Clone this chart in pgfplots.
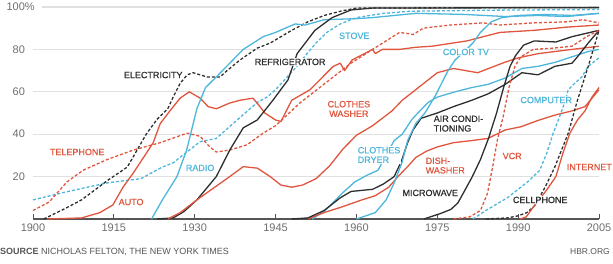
\documentclass[border=0pt]{standalone}
\usepackage{fontspec}
\setmainfont{Liberation Sans}
\newfontfamily\labfont[FakeBold=0.6]{Liberation Sans}
\usepackage{pgfplots}
\pgfplotsset{compat=1.18}
\definecolor{cred}{HTML}{E0553E}
\definecolor{cblue}{HTML}{4DB6DB}
\definecolor{cblack}{HTML}{2E2E2E}
\definecolor{cgrid}{HTML}{E0E0E0}
\definecolor{ctick}{HTML}{6E6E6E}
\definecolor{caxis}{HTML}{555555}
\tikzset{
  lab/.style={fill=white, inner sep=0.6pt, font=\labfont\fontsize{9}{9.6}\selectfont},
  rs/.style={cred, line width=1.3pt, line join=round},
  rd/.style={cred, line width=1.3pt, line join=round, dash pattern=on 3pt off 2pt},
  bs/.style={cblue, line width=1.3pt, line join=round},
  bd/.style={cblue, line width=1.3pt, line join=round, dash pattern=on 3pt off 2pt},
  ks/.style={cblack, line width=1.3pt, line join=round},
  kd/.style={cblack, line width=1.3pt, line join=round, dash pattern=on 3pt off 2pt},
}
\begin{document}
\begin{tikzpicture}
\path[use as bounding box] (-33pt,-45pt) rectangle (580pt,219pt);
\begin{axis}[
  at={(0,0)}, anchor=south west,
  scale only axis, width=566pt, height=212pt,
  xmin=1900, xmax=2005, ymin=0, ymax=100,
  clip=false,
  axis lines=left,
  axis line style={-},
  y axis line style={draw=none},
  x axis line style={caxis, line width=1.3pt},
  xtick={1900,1915,1930,1945,1960,1975,1990,2005},
  xticklabels={1900,1915,1930,1945,1960,1975,1990,2005},
  ytick={20,40,60,80,100},
  yticklabels={20,40,60,80,{100\rlap{{\setlength{\fboxsep}{0pt}\colorbox{white}{\%\hspace{7pt}}}}}},
  xtick align=inside,
  major tick length=5pt,
  xtick style={caxis, line width=0.8pt},
  ytick style={draw=none},
  ymajorgrids,
  grid style={cgrid, line width=1.1pt},
  ticklabel style={font=\fontsize{11}{11}\selectfont, text=ctick},
  yticklabel style={xshift=-2pt},
  xticklabel style={yshift=-1pt},
]
% Stove
\addplot[bd] coordinates {(1900,9) (1906,12.7) (1913.7,17) (1918,18.4) (1920,19) (1924,24.5) (1926,26.5) (1931,36.5) (1934,38) (1938,47) (1941.6,55) (1943.4,57.5) (1945,61) (1948.6,71) (1950.5,77) (1952.5,83) (1954.5,88) (1957,92) (1960,95) (1965,97) (1970,98) (1985,98.5) (2005,98.8)};
% Telephone
\addplot[rd] coordinates {(1900,4) (1903,8) (1906.3,17.5) (1909.3,23) (1913.7,28) (1918.6,32.5) (1923.6,36) (1928.6,40.5) (1931,39) (1932.8,34) (1934,31.6) (1936.5,32.5) (1939.7,35) (1942.7,40.5) (1945,44) (1949.5,54.7) (1955.7,67) (1959,73.5) (1963,80) (1968,88) (1969.5,87.5) (1970.5,87) (1972.4,90) (1977.4,91.5) (1983.5,92.5) (1986.6,91.5) (1992.8,92.5) (1999,93) (2002,94) (2005,92.5)};
% Auto
\addplot[rs] coordinates {(1902.6,0) (1909,0.5) (1912.4,3) (1914.8,6.6) (1916.7,15) (1918.6,21.7) (1920.5,29) (1922.3,36) (1923.6,45) (1925.4,51) (1927.3,57) (1929,60) (1931,57) (1932.5,53) (1934,52) (1936.5,54.7) (1938.4,56) (1940.8,57) (1941.8,54) (1943,50) (1945,46.7) (1946,46) (1948,56) (1951.4,61) (1955.7,72) (1957,73.5) (1957.8,70) (1959.2,75) (1963,80) (1963.5,78) (1964.8,80) (1968,80) (1971,81) (1974,81.5) (1980.5,84) (1986.6,88) (1993,89) (1999,90.5) (2005,91.5)};
% Electricity
\addplot[kd] coordinates {(1902,0) (1906,5) (1909,9) (1914,18.5) (1917.5,24.5) (1921,40) (1923,47) (1925,52) (1926,57.5) (1927.3,64) (1928.6,68) (1929.7,69) (1932.3,67) (1934.7,67) (1936,70) (1938.4,75) (1941.6,80.6) (1944,83) (1946,86) (1948,89) (1951,93) (1954,96) (1957,98) (1960,99.5) (2005,99.8)};
% Radio
\addplot[bs] coordinates {(1922,0) (1924,9) (1926.7,20) (1928.5,32.5) (1930.4,52) (1932,62) (1934,67) (1936.5,73.5) (1939,80) (1942.7,86) (1945,88) (1948.6,92) (1950.5,91.5) (1954,94) (1960,94.5) (1963,95) (1971,97) (1980,96.5) (1987.6,95.5) (1993.7,96) (1999,95.5) (2005,97)};
% Refrigerator
\addplot[ks] coordinates {(1923,0) (1926,0.5) (1928,3.5) (1930.4,9) (1934,20) (1936.5,32.5) (1939,43) (1941.6,46.7) (1944.5,56) (1947.3,65.6) (1949,78) (1952.3,89) (1955.5,95) (1959,98.6) (1963,99.5) (2005,99.7)};
% Clothes washer
\addplot[rs] coordinates {(1925,0) (1927.3,3) (1930.4,9) (1934,15.5) (1936.5,20) (1939,24.7) (1941.6,24) (1944,20) (1946,16) (1948,15) (1950,16) (1952.5,19) (1955,25) (1957.5,33) (1960,39.5) (1963,44) (1966.6,51) (1968.5,56) (1971,61) (1975,69) (1978,71) (1982.5,69) (1987.6,74) (1990,76) (1993.7,78) (2000,80) (2005,81.5)};
% Clothes dryer
\addplot[bs] coordinates {(1951.8,0) (1954.2,4) (1957.3,12) (1959.7,17.5) (1962,20.7) (1964,23) (1967,37) (1968.5,40) (1970.3,47) (1971.4,50) (1973.3,55) (1975,57.5) (1978.3,60) (1981.4,62) (1984.4,63.5) (1987.6,66.5) (1990.7,71) (1993.7,72) (1997,74) (2000,76.5) (2003,79) (2005,80)};
% Dishwasher
\addplot[rs] coordinates {(1951,0) (1954,3) (1957.3,5.7) (1961,9) (1963.5,11) (1966,15) (1967.7,20) (1969.6,25) (1971,29) (1973,32) (1975,34) (1978,36) (1981.4,37) (1984.4,38) (1987.6,42) (1990.5,43.5) (1993.7,46.5) (1996.8,49) (2000,51) (2002.4,53) (2003.7,57) (2005,61)};
% Air conditioning
\addplot[ks] coordinates {(1948,0) (1951,0.5) (1954,4) (1957,10) (1959,13) (1963,14) (1965,16.5) (1967,20) (1968.3,27) (1969.5,36) (1970.5,42) (1972,47.5) (1975,50) (1978,53) (1981.4,56) (1984.4,59) (1987.6,63.5) (1990.7,69) (1993.7,68) (1996.8,72) (2000,73.5) (2001,76.5) (2003,83) (2005,89)};
% Color TV
\addplot[bs] coordinates {(1960,0) (1963.5,3) (1965.5,9) (1967,17) (1968.5,27) (1969.5,37) (1971,45) (1972.7,50) (1974.6,58) (1977,70) (1978.3,75) (1980,79) (1981.6,83) (1983,88) (1985,93) (1987,95) (1990,96) (1995,96.5) (2000,96) (2005,97)};
% Microwave
\addplot[ks] coordinates {(1972.5,0) (1975.5,2.5) (1977.5,4.5) (1978.8,7.5) (1980,13) (1981.5,20) (1983,28) (1984.5,38) (1986,50) (1987.3,62) (1988.5,72) (1989.5,77) (1991,82) (1993,84) (1997,83.5) (2000,86) (2005,89)};
% VCR
\addplot[rd] coordinates {(1978,0) (1981,1) (1983,4) (1984.3,12) (1985.3,25) (1986.2,38) (1987.2,48) (1988.3,62) (1989.4,72) (1990.5,76.5) (1992.8,80) (1996.5,80.6) (2000,81.5) (2002.7,86) (2005,89)};
% Computer
\addplot[bd] coordinates {(1981.6,0) (1984,4) (1986,7) (1988,10) (1990,14) (1992,18) (1994,23) (1995.3,31) (1996.5,40.5) (1997.5,47) (1998.5,54) (1999.3,61) (2000.5,64) (2001.8,67) (2003,72) (2005,76)};
% Cellphone
\addplot[kd] coordinates {(1984,0) (1988,0.5) (1990,1.5) (1991.6,3) (1993,6) (1995,15) (1996.8,24.5) (1999.3,40.5) (2001,56) (2003,72) (2004.3,83) (2005,89)};
% Internet
\addplot[rs] coordinates {(1990.4,0) (1991.5,1) (1992.8,5.6) (1995.3,13.7) (1997,20) (1998.3,31) (1999.6,40.5) (2001,46.7) (2002.4,51) (2003.7,57.5) (2005,62)};
% Labels
\node[lab, text=cblack] at (axis cs:1922.3,67.9) {ELECTRICITY};
\node[lab, text=cblack] at (axis cs:1947.7,74.1) {REFRIGERATOR};
\node[lab, text=cblue] at (axis cs:1959.6,86.4) {STOVE};
\node[lab, text=cblue] at (axis cs:1980.3,78.8) {COLOR TV};
\node[lab, text=cred] at (axis cs:1908.2,31.6) {TELEPHONE};
\node[lab, text=cblue] at (axis cs:1931.0,24.1) {RADIO};
\node[lab, text=cred] at (axis cs:1918.2,8.0) {AUTO};
\node[lab, text=cred, align=center] at (axis cs:1958.6,51.9) {CLOTHES\\WASHER};
\node[lab, text=cblue, align=left, anchor=west] at (axis cs:1960.1,30.2) {CLOTHES\\DRYER};
\node[lab, text=cblack, align=left, anchor=west] at (axis cs:1974.2,45.0) {AIR CONDI-\\TIONING};
\node[lab, text=cred, align=left, anchor=west] at (axis cs:1972.7,25.2) {DISH-\\WASHER};
\node[lab, text=cblack] at (axis cs:1973.7,12.3) {MICROWAVE};
\node[lab, text=cred] at (axis cs:1988.9,29.7) {VCR};
\node[lab, text=cblue] at (axis cs:1995.2,56.1) {COMPUTER};
\node[lab, text=cred] at (axis cs:2003.2,24.5) {INTERNET};
\node[lab, text=cblack] at (axis cs:1994.1,9.0) {CELLPHONE};
\end{axis}
\node[anchor=west, inner sep=0pt, text=caxis, font=\fontsize{9}{9}\selectfont] at (-33pt,-33pt) {\textbf{SOURCE} NICHOLAS FELTON, THE NEW YORK TIMES};
\node[anchor=east, inner sep=0pt, text=caxis, font=\fontsize{8.5}{8.5}\selectfont] at (577pt,-33pt) {HBR.ORG};
\end{tikzpicture}
\end{document}
